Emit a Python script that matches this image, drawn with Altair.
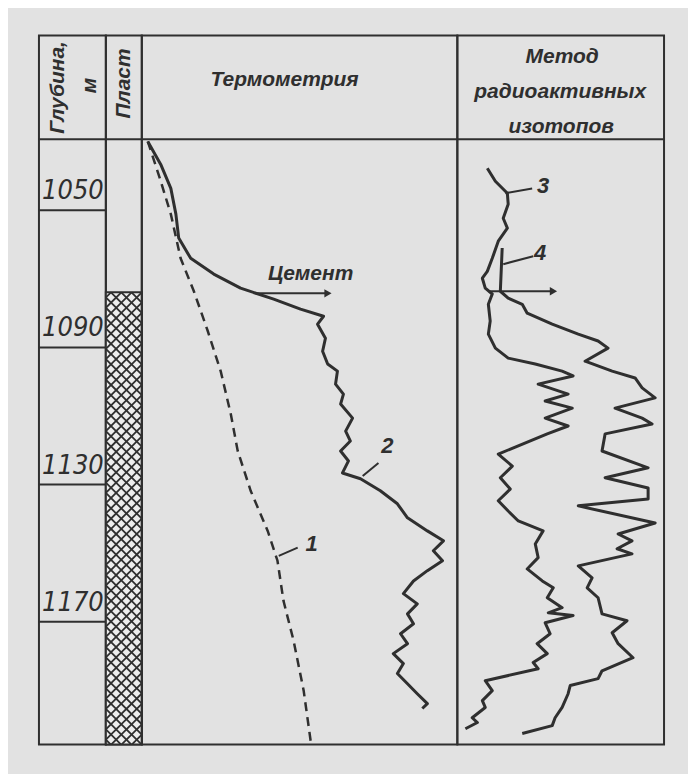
import altair as alt
import pandas as pd
import numpy as np

INK = "#2f2f2f"
PAPER = "#e2e2e2"
FONT = "Liberation Sans"
NUM_FONT = "Liberation Sans Narrow, DejaVu Sans Condensed, Liberation Sans"

# ---------------- data ----------------
DEPTH_TOP, DEPTH_BOTTOM = 1029.3, 1205.8          # depth range of the log body, m
depth_marks = [1050, 1090, 1130, 1170]             # depth ticks, m
plast_top = 1073.9                                 # top of the reservoir layer, m

# Thermometry track (relative units 0-100 across the track) : [value, depth]
curve1 = [[1.9, 1029.9], [6.0, 1041.5], [9.2, 1051.1], [12.3, 1064.0], [16.5, 1073.6],
          [20.9, 1085.2], [25.0, 1096.9], [28.2, 1109.4], [30.4, 1120.2], [34.5, 1131.8],
          [39.9, 1143.5], [43.0, 1152.2], [44.9, 1163.9], [48.1, 1175.5], [51.3, 1190.1],
          [53.5, 1204.7]]
curve2 = [[1.9, 1029.9], [6.0, 1036.6], [9.2, 1043.6], [10.8, 1051.1], [11.7, 1058.1],
          [15.5, 1064.0], [22.8, 1068.6], [31.3, 1072.7], [41.8, 1075.9], [50.3, 1078.8],
          [57.6, 1080.9], [55.7, 1083.2], [58.2, 1087.3], [57.3, 1091.1], [58.9, 1094.8],
          [62.0, 1096.9], [61.4, 1100.7], [63.9, 1103.6], [63.0, 1106.5], [66.8, 1110.6],
          [64.6, 1114.4], [66.1, 1117.3], [63.0, 1120.2], [65.5, 1123.1], [63.6, 1126.6],
          [69.3, 1128.3], [75.6, 1131.8], [81.0, 1135.6], [84.2, 1139.7], [90.5, 1143.5],
          [95.6, 1146.4], [92.4, 1149.3], [95.3, 1152.2], [90.5, 1155.1], [86.1, 1158.1],
          [82.9, 1161.8], [87.3, 1164.8], [84.2, 1167.7], [86.1, 1170.6], [82.0, 1173.5],
          [84.2, 1176.4], [79.7, 1179.3], [82.9, 1182.2], [81.0, 1185.1], [84.2, 1188.1],
          [87.3, 1191.0], [90.5, 1193.9], [88.9, 1195.3]]

# Radioactive-isotope track (relative units 0-100) : [value, depth]
curve3 = [[14.5, 1037.7], [18.4, 1041.5], [24.2, 1045.0], [24.6, 1048.2], [22.2, 1052.3],
          [24.2, 1055.2], [19.8, 1059.0], [16.9, 1064.0], [14.5, 1067.8], [12.1, 1069.8],
          [13.5, 1072.7], [16.9, 1074.4], [15.0, 1077.4], [15.9, 1082.3], [15.0, 1086.1],
          [18.4, 1090.2], [24.6, 1093.1], [37.7, 1094.8], [50.7, 1096.9], [56.0, 1098.3],
          [39.1, 1100.7], [53.6, 1103.6], [42.5, 1105.6], [55.6, 1107.7], [42.5, 1110.6],
          [53.6, 1112.9], [43.5, 1115.2], [19.8, 1121.1], [26.6, 1124.6], [20.8, 1128.0],
          [25.6, 1131.3], [19.8, 1134.7], [24.6, 1137.7], [29.5, 1140.6], [41.5, 1143.5],
          [37.7, 1147.3], [39.1, 1151.3], [33.8, 1154.6], [41.1, 1158.1], [46.4, 1160.1],
          [43.5, 1163.0], [50.7, 1165.9], [44.0, 1167.4], [56.0, 1168.2], [42.5, 1170.3],
          [44.9, 1173.5], [38.6, 1176.4], [43.5, 1179.3], [36.7, 1181.9], [39.1, 1183.7],
          [13.5, 1187.2], [16.9, 1190.1], [12.1, 1193.0], [13.5, 1195.0], [7.2, 1198.0],
          [9.7, 1199.4], [3.9, 1201.2]]
curve4 = [[21.7, 1061.0], [20.8, 1073.6], [24.6, 1075.6], [31.4, 1077.4], [33.8, 1080.0],
          [45.9, 1083.2], [58.5, 1086.1], [68.1, 1088.1], [72.9, 1090.2], [61.8, 1094.0],
          [74.9, 1096.9], [86.0, 1098.9], [89.4, 1101.8], [95.7, 1104.7], [76.3, 1107.7],
          [89.4, 1110.6], [94.2, 1112.3], [71.5, 1115.2], [70.0, 1120.2], [92.3, 1125.1],
          [71.5, 1128.0], [92.3, 1131.0], [92.3, 1134.2], [58.5, 1136.2], [95.7, 1141.2],
          [77.8, 1144.4], [84.5, 1146.4], [77.3, 1148.7], [84.5, 1150.2], [58.5, 1153.7],
          [65.2, 1157.2], [62.8, 1160.1], [68.1, 1163.0], [70.0, 1167.7], [82.1, 1169.7],
          [74.9, 1173.2], [77.8, 1176.4], [85.0, 1180.5], [70.0, 1184.3], [68.1, 1186.6],
          [54.6, 1188.6], [53.6, 1191.0], [50.7, 1195.0], [47.3, 1198.0], [45.9, 1200.3],
          [31.4, 1202.6]]

# curve numbers with their leader lines: [label, x, depth, leader x0, d0, x1, d1]
thermo_labels = [["1", 53.8, 1147.3, 43.4, 1150.8, 49.4, 1148.4],
                 ["2", 77.8, 1118.7, 70.0, 1127.5, 75.0, 1123.7]]
radio_labels = [["3", 41.5, 1043.0, 23.2, 1045.0, 36.2, 1043.6],
                ["4", 40.1, 1062.5, 22.2, 1065.7, 36.7, 1063.4]]
# arrows: [x start, x end, depth]
thermo_arrow = [35.4, 59.0, 1074.2]
radio_arrow = [15.0, 46.5, 1073.6]
cement_label = ["Цемент", 53.5, 1068.6]

header_depth = ["Глубина,", "м"]
header_plast = "Пласт"
header_thermo = "Термометрия"
header_radio = ["Метод", "радиоактивных", "изотопов"]

# ---------------- layout ----------------
W_DEPTH, W_PLAST, W_THERMO, W_RADIO = 67, 36, 316, 207
H_HEAD, H_BODY = 104, 606
m_per_px = (DEPTH_BOTTOM - DEPTH_TOP) / H_BODY
HEAD_TOP = DEPTH_TOP - H_HEAD * m_per_px          # the header band sits above the log body

y_scale = alt.Scale(domain=[HEAD_TOP, DEPTH_BOTTOM], reverse=True, nice=False, zero=False)
x_track = alt.Scale(domain=[0, 100], nice=False, zero=False)
Y = lambda f: alt.Y(f, scale=y_scale, axis=None)
X = lambda f, s=x_track: alt.X(f, scale=s, axis=None)


def text_layer(label, x, y, size, angle=0, baseline="middle", font=FONT, weight="bold"):
    return alt.Chart(pd.DataFrame({"t": [label]})).mark_text(
        font=font, fontSize=size, fontStyle="italic", fontWeight=weight, color=INK, angle=angle,
        align="center", baseline=baseline
    ).encode(x=alt.value(x), y=alt.value(y), text="t:N")


def header_line(width):
    return alt.Chart(pd.DataFrame({"d": [DEPTH_TOP]})).mark_rule(color=INK, strokeWidth=2).encode(
        x=alt.value(0), x2=alt.value(width), y=Y("d:Q"))


# depth column
depth_df = pd.DataFrame({"d": depth_marks, "label": [str(v) for v in depth_marks]})
col_depth = alt.layer(
    text_layer(header_depth[0], 19, 52, 21, 270),
    text_layer(header_depth[1], 51, 50, 21, 270),
    header_line(W_DEPTH),
    alt.Chart(depth_df).mark_rule(color=INK, strokeWidth=2).encode(
        x=alt.value(0), x2=alt.value(W_DEPTH), y=Y("d:Q")),
    alt.Chart(depth_df).mark_text(font=NUM_FONT, fontSize=27, fontStyle="italic", color=INK,
                                  align="center", baseline="alphabetic", dy=-11).encode(
        x=alt.value(34), y=Y("d:Q"), text="label:N"),
).properties(width=W_DEPTH, height=H_HEAD + H_BODY)

# reservoir column with cross hatching
plast_w = W_PLAST * m_per_px
x_plast = alt.Scale(domain=[0, plast_w], nice=False, zero=False)
step = 3.0
segs = []
for c in np.arange(plast_top - plast_w - step, DEPTH_BOTTOM + plast_w + step, step):
    a0, a1 = max(0.0, plast_top - c), min(plast_w, DEPTH_BOTTOM - c)
    if a1 > a0:
        segs.append((a0, c + a0, a1, c + a1))
    b0, b1 = max(0.0, c - DEPTH_BOTTOM), min(plast_w, c - plast_top)
    if b1 > b0:
        segs.append((b0, c - b0, b1, c - b1))
hatch_df = pd.DataFrame(segs, columns=["x0", "d0", "x1", "d1"])
col_plast = alt.layer(
    text_layer(header_plast, 18, 48, 21, 270),
    header_line(W_PLAST),
    alt.Chart(pd.DataFrame({"top": [plast_top], "bot": [DEPTH_BOTTOM]})).mark_rect(
        fill="#ededed", stroke=INK, strokeWidth=2).encode(
        x=alt.value(0), x2=alt.value(W_PLAST), y=Y("top:Q"), y2="bot:Q"),
    alt.Chart(hatch_df).mark_rule(color=INK, strokeWidth=1.8).encode(
        x=X("x0:Q", x_plast), x2="x1:Q", y=Y("d0:Q"), y2="d1:Q"),
).properties(width=W_PLAST, height=H_HEAD + H_BODY)


def curve_df(pts):
    return pd.DataFrame({"i": range(len(pts)), "x": [p[0] for p in pts], "d": [p[1] for p in pts]})


def labels_layers(labels):
    df = pd.DataFrame(labels, columns=["t", "x", "d", "lx0", "ld0", "lx1", "ld1"])
    return [
        alt.Chart(df).mark_rule(color=INK, strokeWidth=2).encode(
            x=X("lx0:Q"), x2="lx1:Q", y=Y("ld0:Q"), y2="ld1:Q"),
        alt.Chart(df).mark_text(font=FONT, fontSize=22, fontStyle="italic", fontWeight="bold", color=INK,
                                align="center", baseline="middle").encode(
            x=X("x:Q"), y=Y("d:Q"), text="t:N"),
    ]


def arrow_layers(arrow):
    df = pd.DataFrame({"x0": [arrow[0]], "x1": [arrow[1]], "d": [arrow[2]]})
    return [
        alt.Chart(df).mark_rule(color=INK, strokeWidth=2).encode(
            x=X("x0:Q"), x2="x1:Q", y=Y("d:Q")),
        alt.Chart(df).mark_point(shape="triangle-right", filled=True, color=INK, size=70, opacity=1).encode(
            x=X("x1:Q"), y=Y("d:Q")),
    ]


col_thermo = alt.layer(
    text_layer(header_thermo, 143, 51, 21, baseline="alphabetic"),
    header_line(W_THERMO),
    alt.Chart(curve_df(curve1)).mark_line(color=INK, strokeWidth=2.5, strokeDash=[9, 6]).encode(
        x=X("x:Q"), y=Y("d:Q"), order="i:Q"),
    alt.Chart(curve_df(curve2)).mark_line(color=INK, strokeWidth=3, strokeJoin="round").encode(
        x=X("x:Q"), y=Y("d:Q"), order="i:Q"),
    *labels_layers(thermo_labels),
    *arrow_layers(thermo_arrow),
    alt.Chart(pd.DataFrame({"t": [cement_label[0]], "x": [cement_label[1]], "d": [cement_label[2]]})).mark_text(
        font=FONT, fontSize=21, fontStyle="italic", fontWeight="bold", color=INK, align="center",
        baseline="middle").encode(
        x=X("x:Q"), y=Y("d:Q"), text="t:N"),
).properties(width=W_THERMO, height=H_HEAD + H_BODY)

col_radio = alt.layer(
    text_layer(header_radio[0], 105, 28, 21, baseline="alphabetic"),
    text_layer(header_radio[1], 103, 63, 21, baseline="alphabetic"),
    text_layer(header_radio[2], 104, 98, 21, baseline="alphabetic"),
    header_line(W_RADIO),
    alt.Chart(curve_df(curve3)).mark_line(color=INK, strokeWidth=3, strokeJoin="round").encode(
        x=X("x:Q"), y=Y("d:Q"), order="i:Q"),
    alt.Chart(curve_df(curve4)).mark_line(color=INK, strokeWidth=3, strokeJoin="round").encode(
        x=X("x:Q"), y=Y("d:Q"), order="i:Q"),
    *labels_layers(radio_labels),
    *arrow_layers(radio_arrow),
).properties(width=W_RADIO, height=H_HEAD + H_BODY)

chart = alt.hconcat(col_depth, col_plast, col_thermo, col_radio, spacing=0, bounds="flush").properties(
    background=PAPER,
    padding={"left": 29, "top": 26, "right": 22, "bottom": 26},
).configure_view(stroke=INK, strokeWidth=2)

chart.save("out.html", embed_options={"renderer": "svg", "actions": False})
